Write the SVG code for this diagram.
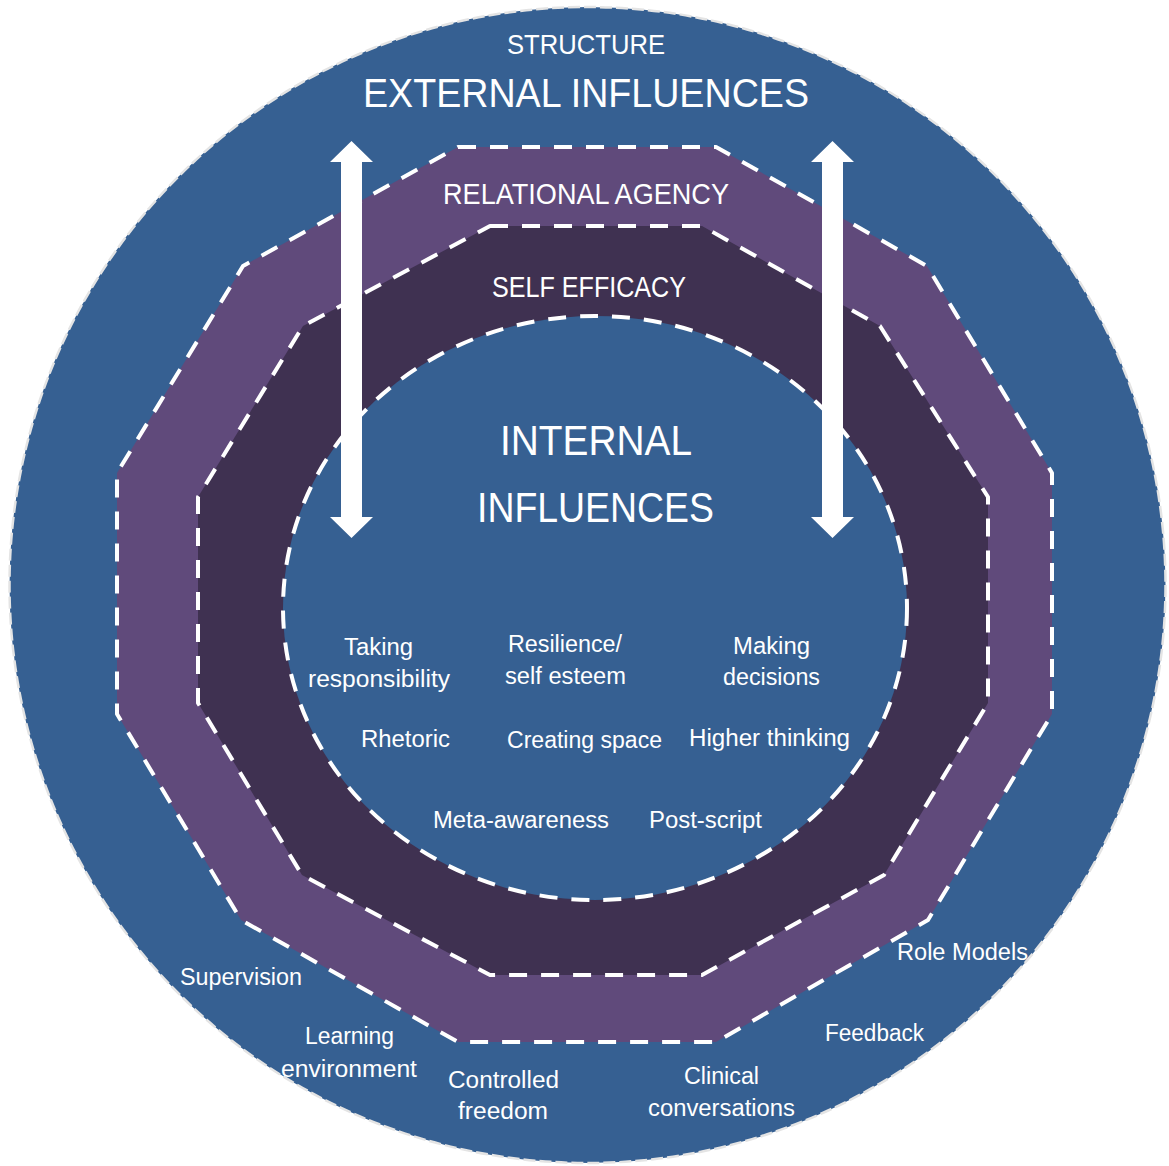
<svg xmlns="http://www.w3.org/2000/svg" width="1169" height="1166" viewBox="0 0 1169 1166">
<style>
.t{font-family:"Liberation Sans",Arial,sans-serif;fill:#ffffff;text-anchor:middle}
.big{font-size:40px}
.mid{font-size:29px}
.sm{font-size:23.5px}
.dash{stroke:#ffffff;stroke-width:4;stroke-dasharray:18 14;stroke-linejoin:round;fill-rule:nonzero}
</style>
<rect x="0" y="0" width="1169" height="1166" fill="#ffffff"/>
<g id="external-influences">
<circle cx="587.5" cy="585" r="578" fill="#366092" stroke="#e4e4e4" stroke-width="2.5" stroke-dasharray="12 4"/>
</g>
<g id="relational-agency">
<polygon class="dash" fill="#604A7B" points="458,147 716,147 927,266 1052,473 1052,714 928,920 716,1042 458,1042 241,920 117,714 117,473 243,266"/>
</g>
<g id="self-efficacy">
<polygon class="dash" fill="#3F3151" points="490,226 702,226 880,326 988,497 988,703 884,875 702,975 490,975 302,875 198,703 198,497 303,326"/>
</g>
<g id="internal-influences">
<ellipse class="dash" cx="595" cy="608" rx="312" ry="292" fill="#366092"/>
</g>
<g id="connectors" fill="#ffffff">
<path d="M351.5,141 L373,162 L362,162 L362,517 L373,517 L351.5,538 L330,517 L341,517 L341,162 L330,162 Z"/>
<path d="M832.5,141 L854,162 L843,162 L843,517 L854,517 L832.5,538 L811,517 L822,517 L822,162 L811,162 Z"/>
</g>
<g id="label-structure"><text class="t" x="586" y="54" font-size="28" textLength="158" lengthAdjust="spacingAndGlyphs">STRUCTURE</text></g>
<g id="label-external"><text class="t big" x="586" y="107" textLength="446" lengthAdjust="spacingAndGlyphs">EXTERNAL INFLUENCES</text></g>
<g id="label-relational"><text class="t mid" x="586" y="204" textLength="286" lengthAdjust="spacingAndGlyphs">RELATIONAL AGENCY</text></g>
<g id="label-selfefficacy"><text class="t mid" x="589" y="297" textLength="194" lengthAdjust="spacingAndGlyphs">SELF EFFICACY</text></g>
<g id="label-internal">
<text class="t" font-size="42" x="596" y="455" textLength="192" lengthAdjust="spacingAndGlyphs">INTERNAL</text>
<text class="t" font-size="42" x="595.5" y="522" textLength="237" lengthAdjust="spacingAndGlyphs">INFLUENCES</text>
</g>
<g id="item-taking-responsibility">
<text class="t sm" x="378.5" y="655" textLength="69" lengthAdjust="spacingAndGlyphs">Taking</text>
<text class="t sm" x="379" y="687" textLength="142" lengthAdjust="spacingAndGlyphs">responsibility</text>
</g>
<g id="item-resilience">
<text class="t sm" x="565" y="652" textLength="114" lengthAdjust="spacingAndGlyphs">Resilience/</text>
<text class="t sm" x="565.5" y="684" textLength="121" lengthAdjust="spacingAndGlyphs">self esteem</text>
</g>
<g id="item-making-decisions">
<text class="t sm" x="771.5" y="654" textLength="77" lengthAdjust="spacingAndGlyphs">Making</text>
<text class="t sm" x="771.5" y="685" textLength="97" lengthAdjust="spacingAndGlyphs">decisions</text>
</g>
<g id="item-rhetoric"><text class="t sm" x="405.5" y="747" textLength="89" lengthAdjust="spacingAndGlyphs">Rhetoric</text></g>
<g id="item-creating-space"><text class="t sm" x="584.5" y="748" textLength="155" lengthAdjust="spacingAndGlyphs">Creating space</text></g>
<g id="item-higher-thinking"><text class="t sm" x="769.5" y="746" textLength="161" lengthAdjust="spacingAndGlyphs">Higher thinking</text></g>
<g id="item-meta-awareness"><text class="t sm" x="521" y="828" textLength="176" lengthAdjust="spacingAndGlyphs">Meta-awareness</text></g>
<g id="item-post-script"><text class="t sm" x="705.5" y="828" textLength="113" lengthAdjust="spacingAndGlyphs">Post-script</text></g>
<g id="item-supervision"><text class="t sm" x="241" y="985" textLength="122" lengthAdjust="spacingAndGlyphs">Supervision</text></g>
<g id="item-learning-environment">
<text class="t sm" x="349.5" y="1044" textLength="89" lengthAdjust="spacingAndGlyphs">Learning</text>
<text class="t sm" x="349" y="1077" textLength="136" lengthAdjust="spacingAndGlyphs">environment</text>
</g>
<g id="item-controlled-freedom">
<text class="t sm" x="503.5" y="1088" textLength="111" lengthAdjust="spacingAndGlyphs">Controlled</text>
<text class="t sm" x="503" y="1119" textLength="90" lengthAdjust="spacingAndGlyphs">freedom</text>
</g>
<g id="item-clinical-conversations">
<text class="t sm" x="721.5" y="1084" textLength="75" lengthAdjust="spacingAndGlyphs">Clinical</text>
<text class="t sm" x="721.5" y="1116" textLength="147" lengthAdjust="spacingAndGlyphs">conversations</text>
</g>
<g id="item-feedback"><text class="t sm" x="874.5" y="1041" textLength="99" lengthAdjust="spacingAndGlyphs">Feedback</text></g>
<g id="item-role-models"><text class="t sm" x="962.5" y="960" textLength="131" lengthAdjust="spacingAndGlyphs">Role Models</text></g>
</svg>
